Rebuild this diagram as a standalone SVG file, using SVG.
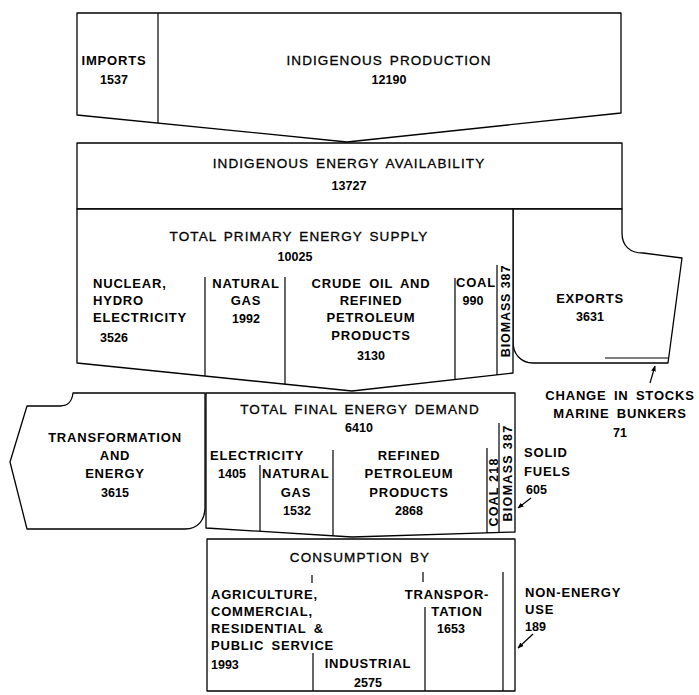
<svg xmlns="http://www.w3.org/2000/svg" width="699" height="695" viewBox="0 0 699 695">
<defs>
<marker id="ah" viewBox="0 0 10 10" refX="9" refY="5" markerWidth="6" markerHeight="6" orient="auto-start-reverse" markerUnits="userSpaceOnUse">
<path d="M0,1 L10,5 L0,9 Z" fill="#000"/>
</marker>
<style>
.ln{fill:#fff;stroke:#000;stroke-width:1.3;stroke-linejoin:round}
.l{fill:none;stroke:#000;stroke-width:1.2}
text{font-family:"Liberation Sans",Arial,sans-serif;fill:#000}
.t{font-size:13.5px;letter-spacing:1.1px;word-spacing:2px;stroke:#000;stroke-width:0.3}
.b{font-size:13px;font-weight:bold;letter-spacing:0.8px;word-spacing:3px}
.n{font-size:12.5px;font-weight:bold}
.v{font-size:12.5px;font-weight:bold;letter-spacing:0.9px}
</style>
</defs>
<rect width="699" height="695" fill="#fff"/>

<g id="production">
<path class="ln" d="M77,13 H621 V113 L347,142 L77,115 Z"/>
<line class="l" x1="158" y1="13" x2="158" y2="123"/>
<text class="b" x="114" y="65" text-anchor="middle">IMPORTS</text>
<text class="n" x="114" y="84" text-anchor="middle">1537</text>
<text class="t" x="389" y="65" text-anchor="middle">INDIGENOUS PRODUCTION</text>
<text class="n" x="389" y="84" text-anchor="middle">12190</text>
</g>

<g id="availability">
<path class="ln" d="M77,209 V143 H622 V209 Z"/>
<text class="t" x="349" y="168" text-anchor="middle">INDIGENOUS ENERGY AVAILABILITY</text>
<text class="n" x="349" y="190" text-anchor="middle">13727</text>
</g>

<g id="exports">
<path class="ln" d="M513,209 H622 V233 C622,246 630,253 643,253 L682,258 L668,363 L533,363 C521,363 513,354 513,342 Z"/>
<line class="l" x1="605" y1="358" x2="669" y2="358"/>
<text class="b" x="590" y="303" text-anchor="middle">EXPORTS</text>
<text class="n" x="590" y="321" text-anchor="middle">3631</text>
</g>

<g id="stocks">
<text class="b" x="620" y="400" text-anchor="middle">CHANGE IN STOCKS</text>
<text class="b" x="620" y="418" text-anchor="middle">MARINE BUNKERS</text>
<text class="n" x="620" y="437" text-anchor="middle">71</text>
</g>

<g id="tpes">
<path class="ln" d="M77,209 H513 V373 L352,391 L77,363 Z"/>
<line class="l" x1="205" y1="277" x2="205" y2="376"/>
<line class="l" x1="285" y1="277" x2="285" y2="384"/>
<line class="l" x1="455" y1="278" x2="455" y2="380"/>
<line class="l" x1="497" y1="265" x2="497" y2="375"/>
<text class="t" x="299" y="241" text-anchor="middle">TOTAL PRIMARY ENERGY SUPPLY</text>
<text class="n" x="295" y="261" text-anchor="middle">10025</text>
<text class="b" x="93" y="288">NUCLEAR,</text>
<text class="b" x="93" y="305">HYDRO</text>
<text class="b" x="93" y="322">ELECTRICITY</text>
<text class="n" x="114" y="342" text-anchor="middle">3526</text>
<text class="b" x="246" y="288" text-anchor="middle">NATURAL</text>
<text class="b" x="246" y="305" text-anchor="middle">GAS</text>
<text class="n" x="246" y="323" text-anchor="middle">1992</text>
<text class="b" x="371" y="288" text-anchor="middle">CRUDE OIL AND</text>
<text class="b" x="371" y="305" text-anchor="middle">REFINED</text>
<text class="b" x="371" y="322" text-anchor="middle">PETROLEUM</text>
<text class="b" x="371" y="340" text-anchor="middle">PRODUCTS</text>
<text class="n" x="371" y="360" text-anchor="middle">3130</text>
<text class="b" x="476" y="287" text-anchor="middle">COAL</text>
<text class="n" x="473" y="305" text-anchor="middle">990</text>
<text class="v" transform="translate(509.5,311) rotate(-90)" text-anchor="middle">BIOMASS 387</text>
</g>

<g id="transformation">
<path class="ln" d="M205,393 H73 C72,401 69,406 60,406 H27 L10,462 L27,529 H185 C198,529 205,520 205,507 Z"/>
<text class="b" x="115" y="442" text-anchor="middle">TRANSFORMATION</text>
<text class="b" x="115" y="460" text-anchor="middle">AND</text>
<text class="b" x="115" y="478" text-anchor="middle">ENERGY</text>
<text class="n" x="115" y="497" text-anchor="middle">3615</text>
</g>

<g id="tfed">
<path class="ln" d="M206,393 H515 V532 L352,537 L206,528 Z"/>
<line class="l" x1="260" y1="465" x2="260" y2="531"/>
<line class="l" x1="333" y1="450" x2="333" y2="536"/>
<line class="l" x1="487" y1="448" x2="487" y2="533"/>
<line class="l" x1="499" y1="423" x2="499" y2="533"/>
<text class="t" x="360" y="414" text-anchor="middle">TOTAL FINAL ENERGY DEMAND</text>
<text class="n" x="359" y="432" text-anchor="middle">6410</text>
<text class="b" x="210" y="460">ELECTRICITY</text>
<text class="n" x="232" y="478" text-anchor="middle">1405</text>
<text class="b" x="262" y="478">NATURAL</text>
<text class="b" x="296" y="497" text-anchor="middle">GAS</text>
<text class="n" x="297" y="515" text-anchor="middle">1532</text>
<text class="b" x="409" y="460" text-anchor="middle">REFINED</text>
<text class="b" x="409" y="478" text-anchor="middle">PETROLEUM</text>
<text class="b" x="409" y="497" text-anchor="middle">PRODUCTS</text>
<text class="n" x="409" y="515" text-anchor="middle">2868</text>
<text class="v" transform="translate(497.5,492) rotate(-90)" text-anchor="middle" style="letter-spacing:1.2px">COAL 218</text>
<text class="v" transform="translate(511.5,473) rotate(-90)" text-anchor="middle" style="letter-spacing:1.3px">BIOMASS 387</text>
</g>

<g id="solid-fuels">
<text class="b" x="524" y="457">SOLID</text>
<text class="b" x="524" y="476">FUELS</text>
<text class="n" x="526" y="494">605</text>
</g>

<g id="consumption">
<rect class="ln" x="207" y="539" width="308" height="152"/>
<line class="l" x1="312" y1="575" x2="312" y2="583"/>
<line class="l" x1="423" y1="572" x2="423" y2="582"/>
<line class="l" x1="313" y1="653" x2="313" y2="691"/>
<line class="l" x1="425" y1="607" x2="425" y2="691"/>
<line class="l" x1="503" y1="572" x2="503" y2="691"/>
<text class="t" x="360" y="562" text-anchor="middle">CONSUMPTION BY</text>
<text class="b" x="211" y="599">AGRICULTURE,</text>
<text class="b" x="211" y="616">COMMERCIAL,</text>
<text class="b" x="211" y="633">RESIDENTIAL &amp;</text>
<text class="b" x="211" y="650">PUBLIC SERVICE</text>
<text class="n" x="211" y="669">1993</text>
<text class="b" x="368" y="668" text-anchor="middle">INDUSTRIAL</text>
<text class="n" x="368" y="687" text-anchor="middle">2575</text>
<text class="b" x="447" y="599" text-anchor="middle">TRANSPOR-</text>
<text class="b" x="457" y="616" text-anchor="middle">TATION</text>
<text class="n" x="451" y="633" text-anchor="middle">1653</text>
</g>

<g id="non-energy">
<text class="b" x="525" y="597">NON-ENERGY</text>
<text class="b" x="525" y="614">USE</text>
<text class="n" x="525" y="631">189</text>
</g>

<g id="connectors">
<line class="l" x1="650" y1="383" x2="655" y2="366" marker-end="url(#ah)"/>
<line class="l" x1="531" y1="498" x2="518" y2="508" marker-end="url(#ah)"/>
<line class="l" x1="533" y1="634" x2="518" y2="648" marker-end="url(#ah)"/>
</g>
</svg>
